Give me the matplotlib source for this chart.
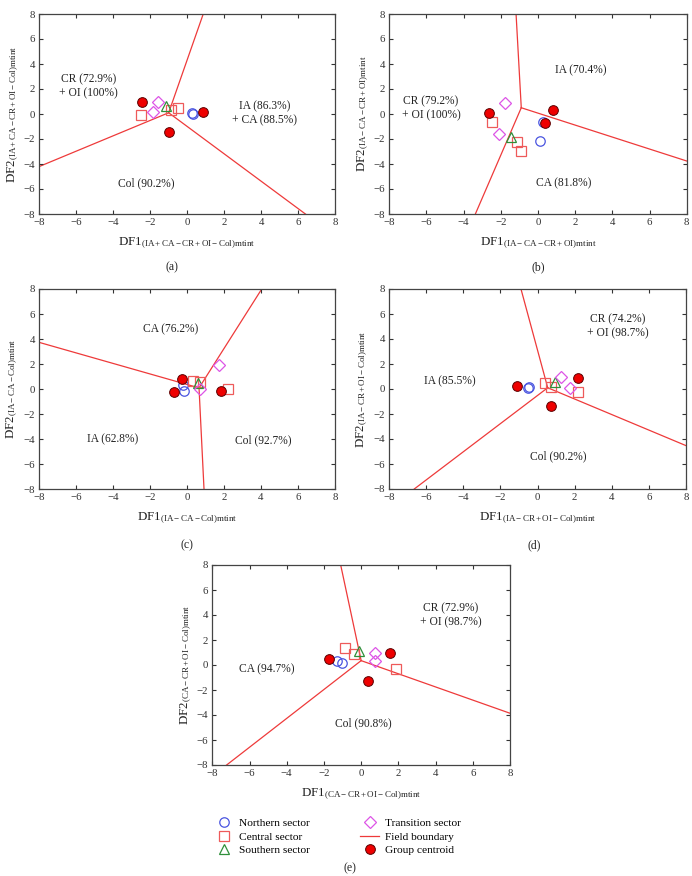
import matplotlib
matplotlib.use('Agg')
import matplotlib.pyplot as plt
from matplotlib.lines import Line2D

plt.rcParams['font.family'] = ['Liberation Serif', 'DejaVu Serif']
plt.rcParams['mathtext.fontset'] = 'custom'
plt.rcParams['mathtext.rm'] = 'Liberation Serif'
plt.rcParams['mathtext.it'] = 'Liberation Serif:italic'

PANELS = ['a', 'b', 'c', 'd', 'e']

# discriminant-function axis subscripts per panel
SUBSCRIPTS = {
    'a': '(IA+CA-CR+OI-Col)mtint',
    'b': '(IA-CA-CR+OI)mtint',
    'c': '(IA-CA-Col)mtint',
    'd': '(IA-CR+OI-Col)mtint',
    'e': '(CA-CR+OI-Col)mtint',
}

# sample groups (DF1, DF2)
north = {
    'a': [(0.25, 0.1), (0.3, 0.0)],
    'b': [(0.25, -0.6), (0.1, -2.15)],
    'c': [(-0.2, 0.3), (-0.15, -0.15)],
    'd': [(-0.5, 0.1), (-0.45, 0.15)],
    'e': [(-1.3, 0.3), (-1.05, 0.2)],
}
central = {
    'a': [(-2.5, -0.1), (-0.9, 0.35), (-0.5, 0.5)],
    'b': [(-2.5, -0.65), (-1.15, -2.2), (-0.9, -2.95)],
    'c': [(0.35, 0.65), (0.7, 0.6), (2.2, 0.05)],
    'd': [(0.4, 0.45), (0.75, 0.2), (2.2, -0.2)],
    'e': [(-0.85, 1.35), (-0.4, 0.9), (1.85, -0.3)],
}
south = {
    'a': [(-1.15, 0.65)],
    'b': [(-1.45, -1.85)],
    'c': [(0.6, 0.5)],
    'd': [(0.95, 0.55)],
    'e': [(-0.1, 1.1)],
}
transition = {
    'a': [(-1.6, 1.0), (-1.85, 0.15)],
    'b': [(-1.75, 0.85), (-2.1, -1.6)],
    'c': [(0.7, 0.0), (1.75, 1.9)],
    'd': [(1.25, 1.0), (1.75, 0.1)],
    'e': [(0.75, 0.95), (0.75, 0.35)],
}
centroids = {
    'a': [(-2.45, 0.95), (-1.0, -1.4), (0.85, 0.15)],
    'b': [(-2.65, 0.1), (0.8, 0.3), (0.35, -0.7)],
    'c': [(-0.25, 0.8), (-0.7, -0.25), (1.85, -0.15)],
    'd': [(-1.1, 0.25), (2.2, 0.9), (0.75, -1.35)],
    'e': [(-1.75, 0.5), (1.55, 1.0), (0.35, -1.3)],
}

# field boundaries: junction point, then the three outer end points
junction = {
    'a': (-1.0, 0.1),
    'b': (-0.9, 0.5),
    'c': (0.65, 0.1),
    'd': (0.55, 0.1),
    'e': (0.0, 0.35),
}
boundary_ends = {
    'a': [(0.87, 8), (-8, -4.2), (6.4, -8)],
    'b': [(-1.18, 8), (8, -3.76), (-3.37, -8)],
    'c': [(4.04, 8), (-8, 3.74), (0.92, -8)],
    'd': [(-0.89, 8), (-6.64, -8), (8, -4.53)],
    'e': [(-1.1, 8), (8, -3.86), (-7.23, -8)],
}

# field names with classification success
field_labels = {
    'a': [('CR (72.9%)\n+ OI (100%)', -5.35, 2.2),
          ('IA (86.3%)\n+ CA (88.5%)', 4.2, 0.05),
          ('Col (90.2%)', -2.2, -5.55)],
    'b': [('IA (70.4%)', 2.3, 3.5),
          ('CR (79.2%)\n+ OI (100%)', -5.75, 0.45),
          ('CA (81.8%)', 1.4, -5.55)],
    'c': [('CA (76.2%)', -0.9, 4.8),
          ('IA (62.8%)', -4.0, -4.0),
          ('Col (92.7%)', 4.1, -4.05)],
    'd': [('CR (74.2%)\n+ OI (98.7%)', 4.3, 5.0),
          ('IA (85.5%)', -4.7, 0.65),
          ('Col (90.2%)', 1.1, -5.4)],
    'e': [('CR (72.9%)\n+ OI (98.7%)', 4.8, 4.0),
          ('CA (94.7%)', -5.05, -0.35),
          ('Col (90.8%)', 0.1, -4.7)],
}

# axes boxes in pixels: left, top, right, bottom
W, H = 692, 876
BOXES = {
    'a': (39.3, 14, 335, 214),
    'b': (389.3, 14, 686.7, 214),
    'c': (39, 289, 335, 489.3),
    'd': (389, 289, 686, 489),
    'e': (212.3, 565, 510, 765),
}
CAPTIONS = {'a': (172, 267), 'b': (538, 267), 'c': (187, 545),
            'd': (534, 545), 'e': (350, 868)}

C_NORTH = '#4a55e0'
C_CENTRAL = '#ee5a5a'
C_SOUTH = '#2f8f3a'
C_TRANS = '#dd55e6'
C_LINE = '#ee3a3a'
C_CENT = '#ee0000'
TXT = '#222222'

fig = plt.figure(figsize=(W / 100, H / 100), dpi=100)


def xy(pts):
    return [p[0] for p in pts], [p[1] for p in pts]


for p in PANELS:
    l, t, r, b = BOXES[p]
    ax = fig.add_axes([l / W, 1 - b / H, (r - l) / W, (b - t) / H])

    jx, jy = junction[p]
    for ex, ey in boundary_ends[p]:
        ax.plot([jx, ex], [jy, ey], color=C_LINE, lw=0.9, zorder=1)

    mk = dict(ls='none', mfc='none', mew=0.9, zorder=3)
    ax.plot(*xy(north[p]), marker='o', ms=6.8, mec=C_NORTH, **mk)
    ax.plot(*xy(central[p]), marker='s', ms=7.3, mec=C_CENTRAL, **mk)
    ax.plot(*xy(south[p]), marker='^', ms=7.3, mec=C_SOUTH, **mk)
    ax.plot(*xy(transition[p]), marker='D', ms=5.8, mec=C_TRANS, **mk)
    ax.plot(*xy(centroids[p]), ls='none', marker='o', ms=7, mfc=C_CENT,
            mec='#5a0000', mew=0.7, zorder=4)

    for txt, tx, ty in field_labels[p]:
        ax.text(tx, ty, txt, ha='center', va='center', fontsize=8.3,
                color=TXT, linespacing=1.25)

    ax.set_xlim(-8, 8)
    ax.set_ylim(-8, 8)
    ax.set_xticks(range(-8, 9, 2))
    ax.set_yticks(range(-8, 9, 2))
    ax.tick_params(direction='in', top=True, right=True, length=3,
                   width=0.8, labelsize=7.8, colors='#333333', pad=3)
    for s in ax.spines.values():
        s.set_linewidth(0.9)
        s.set_color('#444444')

    sub = SUBSCRIPTS[p]
    ax.set_xlabel('DF1$_{\\mathrm{' + sub + '}}$', fontsize=9.3, color=TXT,
                  labelpad=6)
    ax.set_ylabel('DF2$_{\\mathrm{' + sub + '}}$', fontsize=9.3, color=TXT,
                  labelpad=2)

    cx, cy = CAPTIONS[p]
    fig.text(cx / W, 1 - cy / H, '(' + p + ')', ha='center', va='center',
             fontsize=8.5, color=TXT)

handles = [
    Line2D([], [], ls='none', marker='o', ms=6.8, mfc='none', mec=C_NORTH, mew=0.9),
    Line2D([], [], ls='none', marker='s', ms=7.3, mfc='none', mec=C_CENTRAL, mew=0.9),
    Line2D([], [], ls='none', marker='^', ms=7.3, mfc='none', mec=C_SOUTH, mew=0.9),
    Line2D([], [], ls='none', marker='D', ms=5.8, mfc='none', mec=C_TRANS, mew=0.9),
    Line2D([], [], color=C_LINE, lw=0.9),
    Line2D([], [], ls='none', marker='o', ms=7, mfc=C_CENT, mec='#5a0000', mew=0.7),
]
labels = ['Northern sector', 'Central sector', 'Southern sector',
          'Transition sector', 'Field boundary', 'Group centroid']
fig.legend(handles, labels, loc='upper left', bbox_to_anchor=(203.6 / W, 1 - 808 / H),
           ncol=2, frameon=False, fontsize=8.2, handlelength=1.7, handletextpad=0.5,
           columnspacing=4.4, labelspacing=0.32, borderpad=0.4)

fig.savefig('out.png', dpi=100)
